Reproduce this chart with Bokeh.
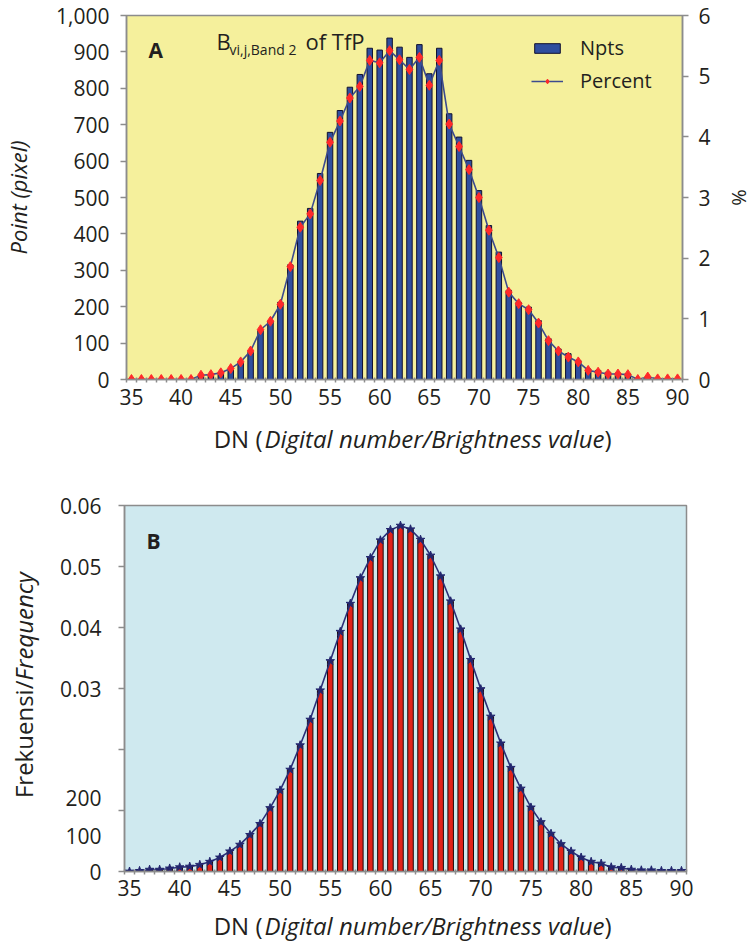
import math
from bokeh.plotting import figure
from bokeh.models import (Range1d, LinearAxis, FixedTicker, NumeralTickFormatter, Legend,
                          LegendItem, Label, CustomJSTickFormatter)
from bokeh.layouts import column, row
from bokeh.embed import file_html
from bokeh.resources import INLINE

# ---------------- data ----------------
dn = list(range(35, 91))
npts = [0, 0, 0, 0, 0, 0, 0,
        10, 12, 18, 28, 47, 75, 135, 160, 212, 315, 435, 470,
        566, 679, 739, 803, 838, 910, 905, 938, 913, 885, 920, 840, 910,
        730, 666, 602, 519, 423, 350, 245, 212, 199, 162, 112, 84, 71, 52,
        29, 25, 20, 17, 16, 3, 6, 2, 2, 2]
percent = [0, 0, 0, 0, 0, 0, 0,
           0.07, 0.08, 0.11, 0.18, 0.29, 0.47, 0.82, 0.96, 1.24, 1.86, 2.51, 2.73,
           3.28, 3.91, 4.26, 4.64, 4.83, 5.26, 5.22, 5.42, 5.27, 5.11, 5.31, 4.85, 5.26,
           4.21, 3.84, 3.46, 3.00, 2.46, 2.01, 1.44, 1.25, 1.15, 0.93, 0.64, 0.47, 0.37, 0.29,
           0.15, 0.12, 0.09, 0.09, 0.08, 0.0, 0.04, 0.01, 0.01, 0.01]
frequency = [0.0000, 0.0001, 0.0003, 0.0003, 0.0005, 0.0007, 0.0008, 0.0011, 0.0016, 0.0023,
             0.0033, 0.0044, 0.0060, 0.0078, 0.0104, 0.0133, 0.0167, 0.0207, 0.0249, 0.0297,
             0.0345, 0.0393, 0.0439, 0.0481, 0.0514, 0.0543, 0.0560, 0.0567, 0.0561, 0.0544,
             0.0518, 0.0484, 0.0443, 0.0397, 0.0347, 0.0299, 0.0254, 0.0210, 0.0170, 0.0136,
             0.0105, 0.0081, 0.0062, 0.0045, 0.0033, 0.0023, 0.0016, 0.0013, 0.0007, 0.0006,
             0.0003, 0.0002, 0.0002, 0.0001, 0.0001, 0.0001]

x_ticks = [35, 40, 45, 50, 55, 60, 65, 70, 75, 80, 85, 90]
npts_ticks = [0, 100, 200, 300, 400, 500, 600, 700, 800, 900, 1000]
pct_ticks = [0, 1, 2, 3, 4, 5, 6]
freq_tick_marks = [0, 0.01, 0.02, 0.03, 0.04, 0.05, 0.06]
freq_label_values = [0, 0.0059, 0.012, 0.03, 0.04, 0.05, 0.06]
freq_label_texts = ["0", "100", "200", "0.03", "0.04", "0.05", "0.06"]

FONT = "Open Sans"
TXT = "#231F20"
AXC = "#8C8C8C"
XMIN, XMAX = dn[0] - 0.5, dn[-1] + 0.5
minor = [d - 0.5 for d in dn] + [XMAX]
W = 755


def style_axis(ax, size="21px"):
    ax.axis_line_color = AXC
    ax.axis_line_width = 1.5
    ax.major_tick_line_color = AXC
    ax.minor_tick_line_color = AXC
    ax.major_tick_line_width = 1.5
    ax.minor_tick_line_width = 1.5
    ax.major_label_text_font = FONT
    ax.major_label_text_font_size = size
    ax.major_label_text_color = TXT
    ax.axis_label_text_font = FONT
    ax.axis_label_text_color = TXT


def strip(w, h, xr, yr):
    s = figure(width=w, height=h, x_range=xr, y_range=yr,
               output_backend="svg", toolbar_location=None, min_border=0,
               min_border_left=0, min_border_right=0, min_border_top=0, min_border_bottom=0,
               outline_line_color=None, x_axis_location=None, y_axis_location=None,
               background_fill_color="white", border_fill_color="white")
    s.grid.visible = False
    return s


def x_title_strip(h, ymid):
    s = strip(W, h, Range1d(XMIN, XMAX), Range1d(0, h))
    s.add_layout(Label(x=XMIN, y=ymid, x_offset=136, text="DN (", text_font=FONT,
                       text_font_size="24px", text_color=TXT, text_align="right",
                       text_baseline="middle"))
    s.add_layout(Label(x=XMIN, y=ymid, x_offset=138, text="Digital number/Brightness value",
                       text_font=FONT, text_font_style="italic", text_font_size="24px",
                       text_color=TXT, text_align="left", text_baseline="middle"))
    s.add_layout(Label(x=XMIN, y=ymid, x_offset=478, text=")", text_font=FONT,
                       text_font_size="24px", text_color=TXT, text_align="left",
                       text_baseline="middle"))
    return s


# ---------------- chart A ----------------
p1 = figure(width=W, height=415, x_range=Range1d(XMIN, XMAX), y_range=Range1d(0, 1000),
            output_backend="svg", toolbar_location=None,
            min_border_left=125, min_border_right=67, min_border_top=15, min_border_bottom=36,
            background_fill_color="#F5F09C", border_fill_color="white",
            outline_line_color=AXC, outline_line_width=1.5)
p1.grid.visible = False
p1.extra_y_ranges = {"pct": Range1d(0, 6)}

bars = p1.vbar(x=dn, top=npts, width=0.55, fill_color="#2F4E9E", line_color="#101030", line_width=1)
ln = p1.line(x=dn, y=percent, y_range_name="pct", line_color="#3C4B8E", line_width=1.6)
mk = p1.scatter(x=dn, y=percent, y_range_name="pct", marker="diamond", size=10,
                fill_color="#FF2A2A", line_color="#FF2A2A")

xa = p1.xaxis[0]
xa.ticker = FixedTicker(ticks=x_ticks, minor_ticks=minor)
style_axis(xa)
xa.major_tick_out = 0
xa.major_tick_in = 0
xa.minor_tick_out = 3
xa.minor_tick_in = 2
xa.major_label_standoff = 6

ya = p1.yaxis[0]
ya.ticker = FixedTicker(ticks=npts_ticks)
ya.formatter = NumeralTickFormatter(format="0,0")
style_axis(ya)
ya.major_tick_out = 6
ya.major_tick_in = 0
ya.minor_tick_out = 0
ya.minor_tick_in = 0
ya.major_label_standoff = 11
ya.axis_label = "Point (pixel)"
ya.axis_label_text_font_style = "italic"
ya.axis_label_text_font_size = "22px"
ya.axis_label_standoff = 20

ra = LinearAxis(y_range_name="pct", ticker=FixedTicker(ticks=pct_ticks))
style_axis(ra)
ra.major_tick_out = 6
ra.major_tick_in = 0
ra.minor_tick_out = 0
ra.minor_tick_in = 0
ra.major_label_standoff = 10
ra.axis_label = "%"
ra.axis_label_text_font_style = "normal"
ra.axis_label_text_font_size = "20px"
ra.axis_label_standoff = 12
p1.add_layout(ra, "right")

legend = Legend(items=[LegendItem(label="Npts", renderers=[bars]),
                       LegendItem(label="Percent", renderers=[ln, mk])],
                location=(405, 285), border_line_alpha=0, background_fill_alpha=0,
                label_text_font=FONT, label_text_font_size="20px", label_text_color=TXT,
                glyph_width=32, glyph_height=12, label_height=22, spacing=6,
                padding=0, margin=0, label_standoff=17)
p1.add_layout(legend)

p1.add_layout(Label(x=XMIN, y=1000, x_offset=22, y_offset=-34, text="A", text_font=FONT,
                    text_font_style="bold", text_font_size="21px", text_color=TXT,
                    text_baseline="middle"))
p1.add_layout(Label(x=XMIN, y=1000, x_offset=90, y_offset=-25, text="B", text_font=FONT,
                    text_font_size="22px", text_color=TXT, text_baseline="middle"))
p1.add_layout(Label(x=XMIN, y=1000, x_offset=103, y_offset=-34, text="vi,j,Band 2", text_font=FONT,
                    text_font_size="14px", text_color=TXT, text_baseline="middle"))
p1.add_layout(Label(x=XMIN, y=1000, x_offset=179, y_offset=-25, text="of TfP", text_font=FONT,
                    text_font_size="22px", text_color=TXT, text_baseline="middle"))

t1 = x_title_strip(43, 20)

# ---------------- chart B ----------------
SW = 50
p2 = figure(width=W - SW, height=449, x_range=Range1d(XMIN, XMAX), y_range=Range1d(0, 0.06),
            output_backend="svg", toolbar_location=None,
            min_border_left=74, min_border_right=69, min_border_top=47, min_border_bottom=36,
            background_fill_color="#CFE9EF", border_fill_color="white",
            outline_line_color=AXC, outline_line_width=1.5)
p2.grid.visible = False

p2.vbar(x=dn, top=frequency, width=0.55, fill_color="#E2231A", line_color="#1A0A0A", line_width=1)
p2.line(x=dn, y=frequency, line_color="#2B2F78", line_width=1.6)
p2.scatter(x=dn, y=frequency, marker="star", size=9, fill_color="#23266E", line_color="#23266E")

xb = p2.xaxis[0]
xb.ticker = FixedTicker(ticks=x_ticks, minor_ticks=minor)
style_axis(xb)
xb.major_tick_out = 0
xb.major_tick_in = 0
xb.minor_tick_out = 3
xb.minor_tick_in = 2
xb.major_label_standoff = 5

yb = p2.yaxis[0]
yb.ticker = FixedTicker(ticks=freq_label_values, minor_ticks=freq_tick_marks)
yb.formatter = CustomJSTickFormatter(
    args=dict(vals=freq_label_values, texts=freq_label_texts),
    code="""
for (let i = 0; i < vals.length; i++) {
    if (Math.abs(vals[i] - tick) < 1e-9) { return texts[i]; }
}
return "";
""")
style_axis(yb)
yb.major_tick_out = 0
yb.major_tick_in = 0
yb.minor_tick_out = 6
yb.minor_tick_in = 0
yb.major_label_standoff = 17

s2 = strip(SW, 449, Range1d(0, SW), Range1d(0, 0.06))
s2.add_layout(Label(x=23, y=0.0313, angle=math.pi / 2, text="Frekuensi/",
                    text_font=FONT, text_font_size="24px", text_color=TXT,
                    text_align="right", text_baseline="middle"))
s2.add_layout(Label(x=23, y=0.0313, angle=math.pi / 2, text="Frequency",
                    text_font=FONT, text_font_style="italic", text_font_size="24px", text_color=TXT,
                    text_align="left", text_baseline="middle"))

p2.add_layout(Label(x=XMIN, y=0.06, x_offset=22, y_offset=-35, text="B", text_font=FONT,
                    text_font_style="bold", text_font_size="21px", text_color=TXT,
                    text_baseline="middle"))

t2 = x_title_strip(35, 17)

layout = column(p1, t1, row(s2, p2, spacing=0), t2, spacing=0)
open("out.html", "w").write(file_html(layout, INLINE))
